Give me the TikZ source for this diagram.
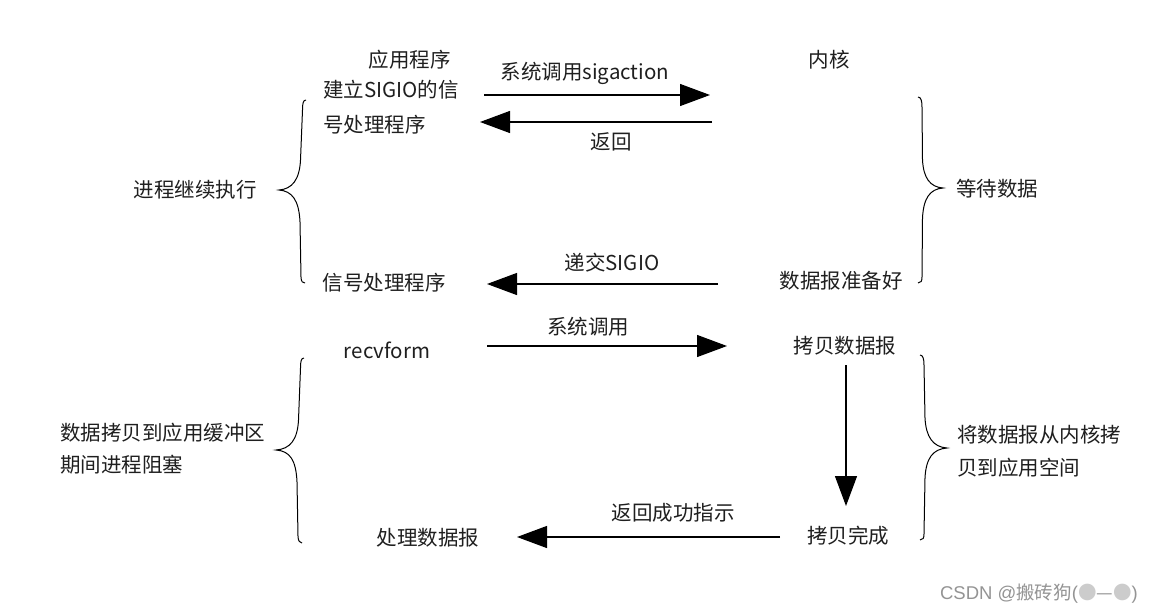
\documentclass[tikz,border=0pt]{standalone}
\usepackage{fontspec}
\setmainfont{Noto Sans CJK SC}
\newfontfamily\wmlat{Liberation Sans}
\usetikzlibrary{arrows.meta}
\begin{document}
\begin{tikzpicture}[x=1pt,y=-1pt,
  lbl/.style={inner sep=0pt,font=\fontsize{20.5}{24}\selectfont,text=black!88},
  arr/.style={line width=1.2pt,-{Triangle[length=30pt,width=22pt]}},
  brace/.style={line width=1pt},
  wm/.style={inner sep=0pt,font=\fontsize{18.5}{22}\selectfont,text=black!42}]
\useasboundingbox (0,0) rectangle (1152,614);
\fill[white] (0,0) rectangle (1152,614);

% texts
\node[lbl] (app) at (409.5,60) {应用程序};
\node[lbl,anchor=west] (app2) at (323,90) {建立SIGIO的信};
\node[lbl,anchor=west] (app3) at (323,125) {号处理程序};
\node[lbl] (sig) at (585,73) {系统调用sigaction};
\node[lbl] (ret) at (611,142) {返回};
\node[lbl] (kern) at (829,60) {内核};
\node[lbl] (cont) at (195,190) {进程继续执行};
\node[lbl] (wait) at (997,189) {等待数据};
\node[lbl] (deliv) at (612,263) {递交SIGIO};
\node[lbl] (handler) at (384,283) {信号处理程序};
\node[lbl] (ready) at (841,281) {数据报准备好};
\node[lbl] (recv) at (387,350) {recvform};
\node[lbl] (sys) at (588,327) {系统调用};
\node[lbl] (copy) at (845,346) {拷贝数据报};
\node[lbl] (done) at (848,536) {拷贝完成};
\node[lbl] (succ) at (673,513) {返回成功指示};
\node[lbl] (proc) at (428,538) {处理数据报};
\node[lbl,anchor=west] (blk1) at (60,433) {数据拷贝到应用缓冲区};
\node[lbl,anchor=west] (blk2) at (60,465) {期间进程阻塞};
\node[lbl,anchor=west] (kc1) at (957,435) {将数据报从内核拷};
\node[lbl,anchor=west] (kc2) at (957,468) {贝到应用空间};
\node[wm,anchor=east] (wmk) at (1138,594) {{\wmlat CSDN @}搬砖狗{\wmlat (}\textcolor{black!20}{●}—\textcolor{black!20}{●}{\wmlat )}};

% arrow endpoints
\coordinate (a1s) at (484,95);  \coordinate (a1e) at (710,95);
\coordinate (a2s) at (712,122); \coordinate (a2e) at (480,122);
\coordinate (a3s) at (718,284); \coordinate (a3e) at (487,284);
\coordinate (a4s) at (487,346); \coordinate (a4e) at (727,346);
\coordinate (a5s) at (846,365); \coordinate (a5e) at (846,506);
\coordinate (a6s) at (780,537); \coordinate (a6e) at (517,537);

\draw[arr] (a1s) -- (a1e);
\draw[arr] (a2s) -- (a2e);
\draw[arr] (a3s) -- (a3e);
\draw[arr] (a4s) -- (a4e);
\draw[arr] (a5s) -- (a5e);
\draw[arr] (a6s) -- (a6e);

% braces
\draw[brace] (306,100) .. controls (303,100) and (302.5,104) .. (302.5,110)
  -- (300.5,160) .. controls (299.5,180) and (292,189) .. (279,190)
  .. controls (292,191) and (299,200) .. (300,222)
  -- (301,277) .. controls (301,282) and (303,283) .. (305,283);
\draw[brace] (918,97) .. controls (921,97) and (922,101) .. (922,107)
  -- (922.5,160) .. controls (923.5,178) and (930,187) .. (943,188)
  .. controls (930,189) and (923.5,198) .. (922.5,218)
  -- (922,277) .. controls (922,281) and (921,283) .. (918,283);
\draw[brace] (304,358) .. controls (301,358) and (300.5,362) .. (300.5,368)
  -- (298.5,420) .. controls (297.5,440) and (290,449) .. (276,450)
  .. controls (290,451) and (296,460) .. (297,482)
  -- (298,536) .. controls (298,541) and (300,543) .. (302,543);
\draw[brace] (920,355) .. controls (923,355) and (924,359) .. (924,365)
  -- (925,418) .. controls (926,437) and (933,447) .. (947,448)
  .. controls (933,449) and (926,458) .. (925,478)
  -- (924,534) .. controls (924,538) and (923,540) .. (920,540);
\end{tikzpicture}
\end{document}
